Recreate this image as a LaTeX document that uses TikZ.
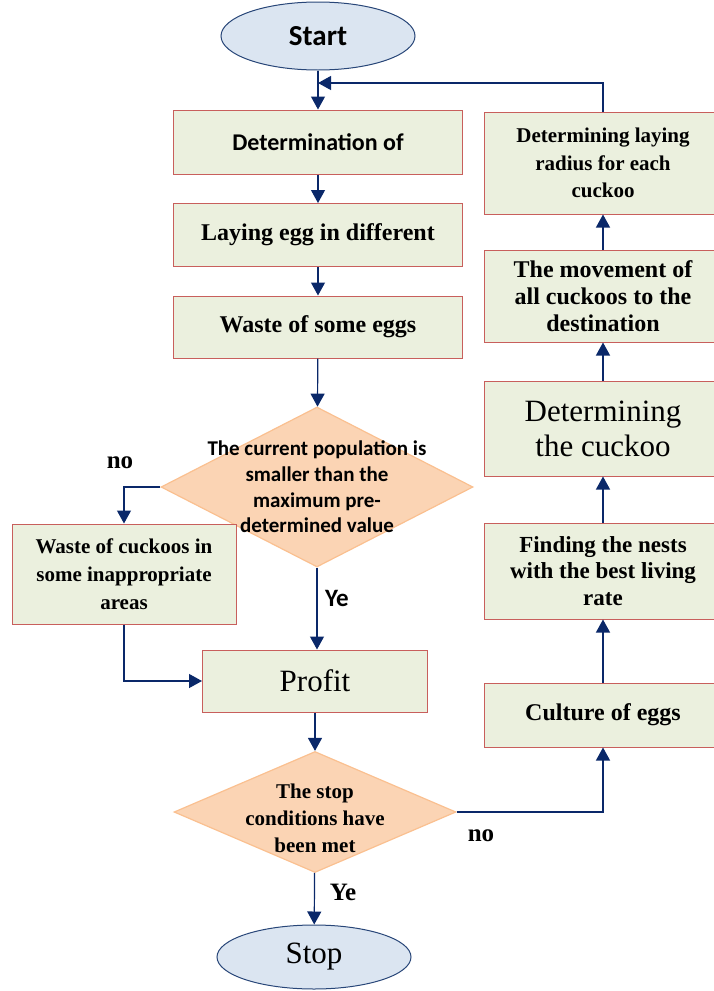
\documentclass[tikz,border=0pt]{standalone}
\usepackage{fontspec}
\setmainfont{Liberation Serif}[BoldFont={Liberation Serif Bold}]
\newfontfamily\calibri{Carlito}[BoldFont={Carlito Bold}]
\usepackage{xcolor}
\definecolor{boxFill}{RGB}{235,240,222}
\definecolor{boxLine}{RGB}{200,95,92}
\definecolor{decFill}{RGB}{251,212,180}
\definecolor{decLine}{RGB}{250,192,144}
\definecolor{termFill}{RGB}{219,229,241}
\definecolor{termLine}{RGB}{40,70,120}
\definecolor{flowColor}{RGB}{10,40,105}
\usetikzlibrary{arrows.meta, shapes.geometric}
\newcommand{\tsz}[2]{\fontsize{#1}{#2}\selectfont}

\begin{document}
\begin{tikzpicture}[x=1pt, y=-1pt,
    stepbox/.style={draw=boxLine, fill=boxFill, line width=1pt, rectangle, inner sep=0pt, align=center},
    decbox/.style={draw=decLine, fill=decFill, line width=1.2pt, diamond, inner sep=0pt},
    dectext/.style={align=center, inner sep=0pt},
    termbox/.style={draw=termLine, fill=termFill, line width=1pt, ellipse, inner sep=0pt},
    flow/.style={draw=flowColor, line width=1.2pt, -{Triangle[length=13pt, width=14pt]}},
    tag/.style={inner sep=0pt, font=\bfseries\tsz{25}{28}}]
    \useasboundingbox (0,0) rectangle (713,991);

    \node[termbox, minimum width=194pt, minimum height=68pt] (start) at (318,36) {\calibri\bfseries\tsz{29}{32}Start};
    \node[stepbox, minimum width=289pt, minimum height=64pt] (detInit) at (318,142) {\calibri\bfseries\tsz{24}{27}Determination of};
    \node[stepbox, minimum width=289pt, minimum height=63pt] (layEgg) at (318,235) {\bfseries\tsz{24}{27}Laying egg in different};
    \node[stepbox, minimum width=289pt, minimum height=62pt] (wasteEgg) at (318,327) {\bfseries\tsz{24}{27}Waste of some eggs};
    \node[decbox, minimum width=312pt, minimum height=160pt,
        label={[dectext, font=\calibri\bfseries\tsz{21}{25.7}]center:The current population is\\smaller than the\\maximum pre-\\determined value}] (popCheck) at (317,487) {};
    \node[stepbox, minimum width=224pt, minimum height=100pt, font=\bfseries\tsz{21}{28}] (wasteCuckoo) at (124,574) {Waste of cuckoos in\\some inappropriate\\areas};
    \node[stepbox, minimum width=225pt, minimum height=62pt, font=\tsz{31}{35}] (profit) at (315,681) {Profit};
    \node[decbox, minimum width=282pt, minimum height=121pt,
        label={[dectext, yshift=-6pt, font=\bfseries\tsz{21}{27}]center:The stop\\conditions have\\been met}] (stopCheck) at (315,812) {};
    \node[termbox, minimum width=194pt, minimum height=64pt, font=\tsz{31}{35}] (stop) at (314,957) {Stop};

    \node[stepbox, minimum width=238pt, minimum height=64pt, font=\bfseries\tsz{24}{27}] (culture) at (603,715) {Culture of eggs};
    \node[stepbox, minimum width=238pt, minimum height=96pt, font=\bfseries\tsz{23}{26.7}] (nests) at (603,571) {Finding the nests\\with the best living\\rate};
    \node[stepbox, minimum width=238pt, minimum height=95pt, font=\tsz{31}{35}] (detCuckoo) at (603,428.5) {Determining\\the cuckoo};
    \node[stepbox, minimum width=238pt, minimum height=92pt, font=\bfseries\tsz{24}{26.7}] (moveAll) at (603,296) {The movement of\\all cuckoos to the\\destination};
    \node[stepbox, minimum width=238pt, minimum height=102pt, font=\bfseries\tsz{21}{27.7}] (layRadius) at (603,163) {Determining laying\\radius for each\\cuckoo};

    \coordinate (joinPt) at (318,83);
    \node[tag, anchor=base] (noLeft) at (120,468) {no};
    \node[tag, anchor=base, font=\calibri\bfseries\tsz{25}{28}] (yesMid) at (337,606) {Ye};
    \node[tag, anchor=base] (noRight) at (481,841) {no};
    \node[tag, anchor=base] (yesLow) at (343,900) {Ye};

    \draw[flow] (start) -- (detInit);
    \draw[flow] (detInit) -- (layEgg);
    \draw[flow] (layEgg) -- (wasteEgg);
    \draw[flow] (wasteEgg) -- (popCheck);
    \draw[flow] (popCheck.west) -| (wasteCuckoo.north);
    \draw[flow] (popCheck.south) -- (popCheck.south |- profit.north);
    \draw[flow] (wasteCuckoo.south) |- (profit.west);
    \draw[flow] (profit) -- (stopCheck);
    \draw[flow] (stopCheck) -- (stop);
    \draw[flow] (stopCheck.east) -| (culture.south);
    \draw[flow] (culture) -- (nests);
    \draw[flow] (nests) -- (detCuckoo);
    \draw[flow] (detCuckoo) -- (moveAll);
    \draw[flow] (moveAll) -- (layRadius);
    \draw[flow] (layRadius.north) |- (joinPt);
\end{tikzpicture}
\end{document}
